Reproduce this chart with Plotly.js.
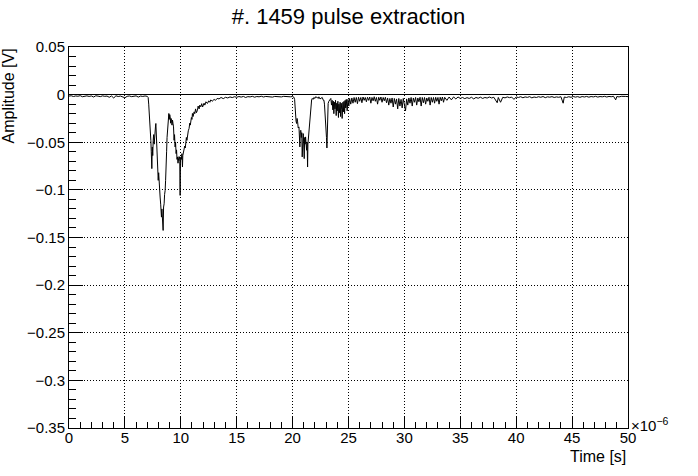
<!DOCTYPE html>
<html>
<head>
<meta charset="utf-8">
<script src="https://cdn.plot.ly/plotly-3.0.1.min.js"></script>
<style>html,body{margin:0;padding:0;background:#fff;}#chart{width:698px;height:476px;}</style>
</head>
<body>
<div id="chart"></div>
<script>
// Time in microseconds (axis shows x10^-6 s), amplitude in volts
const t_pre = [0,0.2,0.4,0.6,0.8,1.0,1.2,1.4,1.6,1.8,2.0,2.2,2.4,2.6,2.8,3.0,3.2,3.4,3.6,3.8,4.0,4.2,4.4,4.6,4.8,5.0,5.2,5.4,5.6,5.8,6.0,6.2,6.4,6.6,6.8];
const v_pre = [-0.0015,-0.0012,-0.0020,-0.0014,-0.0017,-0.0011,-0.0022,-0.0015,-0.0013,-0.0019,-0.0014,-0.0025,-0.0012,-0.0016,-0.0021,-0.0013,-0.0018,-0.0015,-0.0028,-0.0014,-0.0035,-0.0012,-0.0020,-0.0015,-0.0024,-0.0033,-0.0018,-0.0014,-0.0021,-0.0016,-0.0013,-0.0026,-0.0015,-0.0019,-0.0014];

const t_p1 = [7.00,7.08,7.13,7.17,7.22,7.27,7.32,7.36,7.41,7.45,7.49,7.53,7.57,7.62,7.66,7.70,7.74,7.77,7.81,7.86,7.90,7.94,7.98,8.02,8.07,8.11,8.15,8.20,8.24,8.27,8.31,8.36,8.39,8.42,8.46,8.51,8.55,8.60,8.64,8.69,8.73,8.77,8.81,8.85,8.89,8.93,8.97,9.01,9.05,9.09,9.13,9.17,9.21,9.26,9.30,9.35,9.40,9.44,9.49,9.53,9.58,9.62,9.66,9.70,9.75,9.79,9.83,9.88,9.91,9.94,9.97,10.00,10.05,10.10,10.15,10.18,10.21,10.25,10.30,10.35,10.40,10.45,10.50,10.55,10.60,10.67,10.74,10.80,10.85,10.89,10.95,11.00,11.04,11.10,11.19,11.25,11.32,11.40,11.49,11.55,11.64,11.70,11.79,11.87,11.95,12.08,12.15,12.25,12.38,12.50,12.60,12.68,12.80,12.98,13.10,13.25,13.42];
const v_p1 = [-0.0018,-0.0030,-0.0100,-0.0163,-0.0250,-0.0350,-0.0479,-0.0600,-0.0777,-0.0550,-0.0640,-0.0479,-0.0420,-0.0520,-0.0380,-0.0374,-0.0330,-0.0303,-0.0420,-0.0409,-0.0560,-0.0654,-0.0900,-0.0820,-0.1005,-0.0950,-0.1075,-0.1150,-0.1250,-0.1286,-0.1200,-0.1300,-0.1250,-0.1426,-0.1180,-0.1146,-0.1050,-0.1005,-0.0900,-0.0795,-0.0600,-0.0450,-0.0374,-0.0280,-0.0230,-0.0198,-0.0260,-0.0210,-0.0233,-0.0300,-0.0250,-0.0268,-0.0320,-0.0268,-0.0300,-0.0339,-0.0479,-0.0420,-0.0549,-0.0500,-0.0619,-0.0580,-0.0680,-0.0654,-0.0720,-0.0689,-0.0650,-0.0654,-0.0700,-0.1058,-0.0700,-0.0654,-0.0680,-0.0620,-0.0760,-0.0640,-0.0619,-0.0600,-0.0584,-0.0540,-0.0560,-0.0514,-0.0450,-0.0480,-0.0409,-0.0380,-0.0356,-0.0300,-0.0320,-0.0268,-0.0240,-0.0260,-0.0198,-0.0230,-0.0181,-0.0200,-0.0150,-0.0190,-0.0163,-0.0120,-0.0150,-0.0110,-0.0128,-0.0095,-0.0130,-0.0090,-0.0110,-0.0075,-0.0093,-0.0065,-0.0080,-0.0055,-0.0070,-0.0050,-0.0060,-0.0040,-0.0045];

const t_mid = [13.6,13.8,14.0,14.2,14.4,14.6,14.8,15.0,15.2,15.4,15.6,15.8,16.0,16.2,16.4,16.6,16.8,17.0,17.2,17.4,17.6,17.8,18.0,18.2,18.4,18.6,18.8,19.0,19.2,19.4,19.6,19.8,20.0,20.1];
const v_mid = [-0.0030,-0.0042,-0.0028,-0.0035,-0.0024,-0.0031,-0.0022,-0.0028,-0.0020,-0.0026,-0.0019,-0.0030,-0.0021,-0.0024,-0.0018,-0.0027,-0.0020,-0.0023,-0.0017,-0.0025,-0.0019,-0.0022,-0.0018,-0.0026,-0.0019,-0.0021,-0.0017,-0.0024,-0.0018,-0.0022,-0.0019,-0.0023,-0.0020,-0.0025];

const t_p2 = [20.18,20.22,20.27,20.31,20.36,20.40,20.45,20.50,20.57,20.61,20.65,20.69,20.74,20.78,20.82,20.86,20.90,20.95,20.99,21.04,21.08,21.12,21.16,21.20,21.25,21.30,21.34,21.37,21.40,21.43,21.46,21.50,21.55,21.60,21.64,21.70,21.76,21.83,21.90,22.00,22.05,22.15,22.20,22.30,22.35,22.45,22.50,22.60,22.65,22.75,22.80,22.85,22.89,22.94,22.98,23.03,23.07,23.10,23.13,23.18,23.24,23.30,23.36];
const v_p2 = [-0.0050,-0.0150,-0.0233,-0.0280,-0.0303,-0.0250,-0.0286,-0.0350,-0.0339,-0.0420,-0.0549,-0.0380,-0.0374,-0.0450,-0.0400,-0.0654,-0.0420,-0.0409,-0.0500,-0.0672,-0.0450,-0.0520,-0.0444,-0.0550,-0.0584,-0.0500,-0.0760,-0.0520,-0.0479,-0.0400,-0.0374,-0.0280,-0.0198,-0.0120,-0.0075,-0.0055,-0.0040,-0.0050,-0.0030,-0.0040,-0.0023,-0.0035,-0.0030,-0.0040,-0.0023,-0.0045,-0.0040,-0.0030,-0.0030,-0.0060,-0.0058,-0.0100,-0.0163,-0.0300,-0.0374,-0.0450,-0.0560,-0.0400,-0.0268,-0.0093,-0.0070,-0.0058,-0.0040];

const t_tail = [23.42,23.48,23.54,23.60,23.65,23.69,23.74,23.79,23.84,23.90,23.95,23.99,24.05,24.10,24.14,24.20,24.25,24.29,24.35,24.40,24.43,24.50,24.55,24.60,24.65,24.70,24.75,24.80,24.88,24.95,25.03,25.10,25.20,25.30,25.40,25.50,25.60,25.70,25.80,25.90,26.00,26.10,26.20,26.30,26.40];
const v_tail = [-0.0040,-0.0110,-0.0060,-0.0160,-0.0070,-0.0200,-0.0080,-0.0150,-0.0060,-0.0220,-0.0090,-0.0170,-0.0070,-0.0240,-0.0100,-0.0190,-0.0080,-0.0230,-0.0090,-0.0160,-0.0250,-0.0080,-0.0180,-0.0070,-0.0200,-0.0060,-0.0140,-0.0050,-0.0170,-0.0050,-0.0120,-0.0040,-0.0100,-0.0035,-0.0090,-0.0030,-0.0080,-0.0030,-0.0095,-0.0028,-0.0070,-0.0030,-0.0085,-0.0025,-0.0060];

const t_post = [26.5,26.6,26.7,26.8,26.9,27.0,27.1,27.2,27.3,27.4,27.5,27.6,27.7,27.8,27.9,28.0,28.1,28.2,28.3,28.4,28.5,28.6,28.7,28.8,28.9,29.0,29.1,29.2,29.3,29.4,29.5,29.6,29.7,29.8,29.9,30.0,30.1,30.2,30.3,30.4,30.5,30.6,30.7,30.8,30.9,31.0,31.1,31.2,31.3,31.4,31.5,31.6,31.7,31.8,31.9,32.0,32.1,32.2,32.3,32.4,32.5,32.6,32.7,32.8,32.9,33.0,33.1,33.2,33.3,33.4,33.5,33.6,33.8,34.0,34.2,34.4,34.6,34.8,35.0];
const v_post = [-0.0030,-0.0075,-0.0028,-0.0060,-0.0025,-0.0090,-0.0030,-0.0065,-0.0022,-0.0070,-0.0030,-0.0100,-0.0028,-0.0060,-0.0025,-0.0080,-0.0030,-0.0065,-0.0028,-0.0085,-0.0035,-0.0110,-0.0040,-0.0090,-0.0035,-0.0130,-0.0040,-0.0100,-0.0045,-0.0150,-0.0040,-0.0120,-0.0050,-0.0140,-0.0040,-0.0100,-0.0170,-0.0045,-0.0110,-0.0035,-0.0090,-0.0030,-0.0120,-0.0035,-0.0080,-0.0030,-0.0110,-0.0035,-0.0075,-0.0028,-0.0120,-0.0030,-0.0085,-0.0030,-0.0100,-0.0035,-0.0070,-0.0028,-0.0110,-0.0030,-0.0080,-0.0030,-0.0090,-0.0028,-0.0070,-0.0030,-0.0100,-0.0028,-0.0065,-0.0025,-0.0080,-0.0028,-0.0060,-0.0025,-0.0055,-0.0024,-0.0045,-0.0025,-0.0040];

const t_late = [35.2,35.4,35.6,35.8,36.0,36.2,36.4,36.6,36.8,37.0,37.2,37.4,37.6,37.8,38.0,38.3,38.4,38.6,38.8,39.0,39.2,39.4,39.6,39.8,40.0,40.2,40.4,40.6,40.8,41.0,41.2,41.4,41.6,41.8,42.0,42.2,42.4,42.6,42.8,43.0,43.2,43.4,43.6,43.8,44.0,44.2,44.3,44.5,44.7,44.9,45.1,45.3,45.5,45.7,45.9,46.1,46.3,46.5,46.7,46.9,47.1,47.3,47.5,47.7,47.9,48.1,48.3,48.5,48.7,48.9,49.0,49.2,49.4,49.6,49.8,50.0];
const v_late = [-0.0030,-0.0042,-0.0032,-0.0040,-0.0028,-0.0045,-0.0030,-0.0038,-0.0027,-0.0040,-0.0030,-0.0036,-0.0025,-0.0035,-0.0028,-0.0085,-0.0030,-0.0080,-0.0028,-0.0034,-0.0024,-0.0032,-0.0026,-0.0050,-0.0025,-0.0030,-0.0022,-0.0033,-0.0024,-0.0029,-0.0021,-0.0034,-0.0025,-0.0030,-0.0022,-0.0028,-0.0020,-0.0032,-0.0023,-0.0027,-0.0021,-0.0030,-0.0024,-0.0028,-0.0022,-0.0090,-0.0025,-0.0030,-0.0022,-0.0028,-0.0020,-0.0026,-0.0021,-0.0029,-0.0020,-0.0025,-0.0019,-0.0027,-0.0020,-0.0024,-0.0018,-0.0026,-0.0020,-0.0023,-0.0018,-0.0025,-0.0019,-0.0022,-0.0017,-0.0055,-0.0020,-0.0024,-0.0018,-0.0022,-0.0019,-0.0021];

const xTickVals = [0,5,10,15,20,25,30,35,40,45,50];
const xTickText = ["0","5","10","15","20","25","30","35","40","45","50"];
const yTickVals = [0.05,0,-0.05,-0.1,-0.15,-0.2,-0.25,-0.3,-0.35];
const yTickText = ["0.05","0","\u22120.05","\u22120.1","\u22120.15","\u22120.2","\u22120.25","\u22120.3","\u22120.35"];

const titleText = "#. 1459 pulse extraction";
const xTitle = "Time [s]";
const yTitle = "Amplitude [V]";
const xExponent = "\u00d710<sup>\u22126</sup>";

const timeUs = [].concat(t_pre, t_p1, t_mid, t_p2, t_tail, t_post, t_late);
const ampV = [].concat(v_pre, v_p1, v_mid, v_p2, v_tail, v_post, v_late);

const FONT = '"Liberation Sans", Arial, Helvetica, sans-serif';
const W = 698, H = 476;
const M = {l: 69, r: 70, t: 47, b: 48};
const plotH = H - M.t - M.b;

const trace = {
  x: timeUs, y: ampV, type: 'scatter', mode: 'lines',
  line: {color: '#000', width: 1}, hoverinfo: 'skip'
};

const axisCommon = {
  showline: true, linecolor: '#000', linewidth: 1, mirror: true,
  showgrid: true, gridcolor: '#000', gridwidth: 1, griddash: '1px,2px',
  ticks: 'inside', tickcolor: '#000', tickwidth: 1,
  tickfont: {family: FONT, size: 15, color: '#000'},
  tickmode: 'array', fixedrange: true
};

const layout = {
  width: W, height: H,
  margin: M,
  paper_bgcolor: '#fff', plot_bgcolor: '#fff',
  showlegend: false,
  font: {family: FONT, color: '#000'},
  title: {text: titleText, x: 0.5, xanchor: 'center', xref: 'paper',
          y: 1 - 16 / H, yanchor: 'middle', yref: 'container',
          font: {family: FONT, size: 22, color: '#000'}},
  xaxis: Object.assign({}, axisCommon, {
    range: [0, 50], tickvals: xTickVals, ticktext: xTickText,
    ticklen: 11, zeroline: false, ticklabelstandoff: -4,
    minor: {tickmode: 'linear', tick0: 0, dtick: 1, ticks: 'inside', ticklen: 6, tickcolor: '#000', tickwidth: 1, showgrid: false}
  }),
  yaxis: Object.assign({}, axisCommon, {
    range: [-0.35, 0.05], tickvals: yTickVals, ticktext: yTickText,
    ticklen: 14, zeroline: true, zerolinecolor: '#000', zerolinewidth: 1,
    minor: {tickmode: 'linear', tick0: 0, dtick: 0.01, ticks: 'inside', ticklen: 7, tickcolor: '#000', tickwidth: 1, showgrid: false}
  }),
  annotations: [
    {text: xTitle, xref: 'paper', yref: 'paper', x: 1, xanchor: 'right',
     y: -(456 - (H - M.b)) / plotH, yanchor: 'middle', showarrow: false,
     font: {family: FONT, size: 16, color: '#000'}},
    {text: yTitle, xref: 'paper', yref: 'paper', textangle: -90,
     x: (8 - M.l) / (W - M.l - M.r), xanchor: 'center', y: 1, yanchor: 'top', showarrow: false,
     font: {family: FONT, size: 16, color: '#000'}},
    {text: xExponent, xref: 'paper', yref: 'paper', x: 1.002, xanchor: 'left',
     y: -(424 - (H - M.b)) / plotH, yanchor: 'middle', showarrow: false,
     font: {family: FONT, size: 15, color: '#000'}}
  ]
};

Plotly.newPlot('chart', [trace], layout, {displayModeBar: false, staticPlot: true});
</script>
</body>
</html>
